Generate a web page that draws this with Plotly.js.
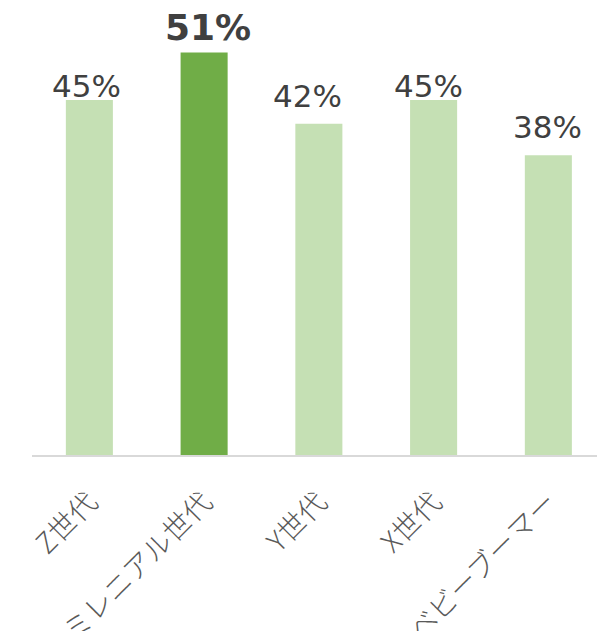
<!DOCTYPE html>
<html>
<head>
<meta charset="utf-8">
<script src="https://cdn.plot.ly/plotly-3.0.1.min.js"></script>
<style>html,body{margin:0;padding:0;background:#fff;overflow:hidden;}#chart{width:597px;height:631px;}</style>
</head>
<body>
<div id="chart"></div>
<script>
const categories = ["Z世代", "ミレニアル世代", "Y世代", "X世代", "ベビーブーマー"];
const values = [45, 51, 42, 45, 38];
const highlight = [false, true, false, false, false];

// label placement nudges (pixels), as placed in the original chart
const labelDx = [-3, 4, -11, -5, -1];
const labelGap = [3, 11, 17, 3, 18];

const light = "#c5e0b4", dark = "#70ad47";
const colors = highlight.map(h => h ? dark : light);

const annotations = categories.map((c, i) => ({
  x: c, y: values[i], xref: "x", yref: "y",
  text: highlight[i] ? "<b>" + values[i] + "%</b>" : values[i] + "%",
  showarrow: false, yanchor: "bottom", xanchor: "center",
  xshift: labelDx[i],
  yshift: highlight[i] ? labelGap[i] - 8 : labelGap[i] - 9.5,
  font: {family: "DejaVu Sans, Verdana, sans-serif", size: highlight[i] ? 36 : 31, color: "#404040"}
}));

const trace = {
  type: "bar", x: categories, y: values,
  marker: {color: colors, line: {width: 0}},
  hoverinfo: "none"
};

const layout = {
  width: 597, height: 631,
  margin: {l: 32, r: 0, t: 0, b: 176, pad: 0},
  paper_bgcolor: "#fff", plot_bgcolor: "#fff",
  showlegend: false, bargap: 0.59,
  xaxis: {
    type: "category", range: [-0.5, 4.424],
    showline: true, linecolor: "#d9d9d9", linewidth: 1.5,
    showgrid: false, zeroline: false, ticks: "",
    tickangle: -45, ticklabelstandoff: 18,
    tickfont: {family: "Noto Sans CJK JP, sans-serif", size: 28, weight: 300, color: "#595959"},
    fixedrange: true
  },
  yaxis: {range: [0, 57.67], visible: false, showgrid: false, zeroline: false, fixedrange: true},
  annotations: annotations
};

Plotly.newPlot("chart", [trace], layout, {displayModeBar: false, staticPlot: true});
</script>
</body>
</html>
